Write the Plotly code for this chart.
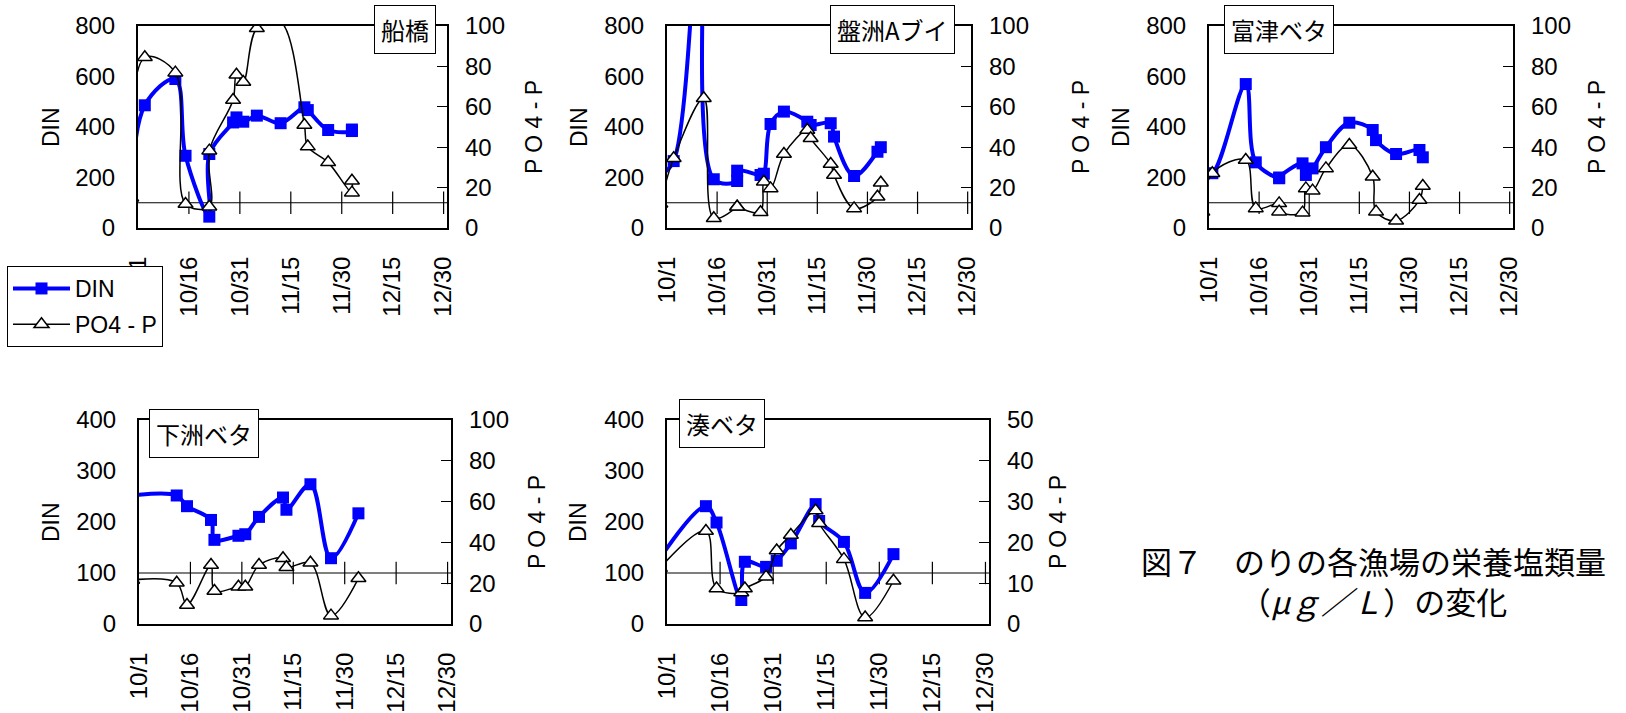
import plotly.graph_objects as go

YEAR = 2010
W, H = 1626, 713

# ---------------- data ----------------
tick_dates = ["10/01", "10/16", "10/31", "11/15", "11/30", "12/15", "12/30"]
tick_text = ["10/1", "10/16", "10/31", "11/15", "11/30", "12/15", "12/30"]
axis_start, axis_end = "10/01", "12/31"
ref_din = 100  # horizontal axis crosses the DIN axis here

funabashi_dates = ["09/29", "10/03", "10/12", "10/15", "10/22", "10/22", "10/29", "10/30",
                   "11/01", "11/05", "11/12", "11/19", "11/20", "11/26", "12/03", "12/03"]
funabashi_din = [100, 486, 590, 286, 45, 293, 418, 438, 421, 445, 415, 478, 467, 388, 384, 390]
funabashi_po4 = [15, 84.5, 76.9, 11.9, 10.5, 38.3, 63.4, 75.9, 72.3, 98.9, 102, 51.0, 40.3,
                 32.5, 17.5, 23.4]

banzu_dates = ["09/29", "10/03", "10/12", "10/15", "10/22", "10/22", "10/29", "10/30", "11/01",
               "11/05", "11/12", "11/13", "11/19", "11/20", "11/26", "12/03", "12/04"]
banzu_din = [210, 265, 1500, 193, 186, 227, 210, 215, 412, 461, 421, 408, 415, 362, 206, 302, 320]
banzu_po4 = [12, 34.5, 64.2, 4.8, 10.5, 10.5, 7.8, 22.9, 19.6, 36.6, 48.5, 44.4, 31.7, 26.2,
             9.7, 15.5, 22.4]

futtsu_dates = ["09/29", "10/02", "10/12", "10/15", "10/22", "10/22", "10/29", "10/30", "11/01",
                "11/05", "11/12", "11/19", "11/20", "11/26", "12/03", "12/04"]
futtsu_din = [225, 217, 570, 260, 197, 200, 256, 210, 236, 320, 417, 388, 348, 293, 309, 280]
futtsu_po4 = [8, 27.1, 33.7, 9.7, 12.2, 8.1, 7.6, 19.6, 18.5, 29.5, 41.1, 25.4, 8.1, 3.6, 13.9, 20.8]

shimosu_dates = ["09/29", "10/12", "10/15", "10/22", "10/23", "10/30", "11/01", "11/05", "11/12",
                 "11/13", "11/20", "11/26", "12/04"]
shimosu_din = [252, 252, 231, 204, 165, 173, 176, 210, 248, 224, 274, 129, 217]
shimosu_po4 = [21.6, 20.2, 9.3, 28.9, 16.2, 18.3, 18.3, 28.9, 32.2, 27.8, 30.0, 4.1, 22.4]

minato_dates = ["09/29", "10/12", "10/15", "10/22", "10/23", "10/29", "11/01", "11/05", "11/12",
                "11/13", "11/20", "11/26", "12/04"]
minato_din = [129, 231, 199, 47, 122, 112, 124, 158, 235, 202, 161, 61, 137]
minato_po4 = [13.7, 22.8, 8.7, 7.7, 8.7, 11.6, 18.0, 21.8, 27.8, 24.7, 15.9, 1.6, 10.6]

station_names = ["船橋", "盤洲Aブイ", "富津ベタ", "下洲ベタ", "湊ベタ"]
din_ranges = [800, 800, 800, 400, 400]
din_steps = [200, 200, 200, 100, 100]
po4_ranges = [100, 100, 100, 100, 50]
po4_steps = [20, 20, 20, 20, 10]

series = [
    (funabashi_dates, funabashi_din, funabashi_po4),
    (banzu_dates, banzu_din, banzu_po4),
    (futtsu_dates, futtsu_din, futtsu_po4),
    (shimosu_dates, shimosu_din, shimosu_po4),
    (minato_dates, minato_din, minato_po4),
]

caption_line1 = "図７　のりの各漁場の栄養塩類量"
caption_line2 = "（<i>μｇ／Ｌ</i>）の変化"

# ---------------- layout geometry (pixels) ----------------
boxes = [(138, 447, 26, 228), (667, 971, 26, 228), (1209, 1513, 26, 228),
         (139, 451, 420, 624), (667, 989, 420, 624)]
name_centres = [(405, 29), (892.5, 29), (1278.5, 29), (204.5, 433), (721.5, 423.5)]
din_title_x = [51, 579, 1121, 51, 578]
po4_title_x = [534, 1081, 1597, 537, 1058]

NUM_FONT = "Liberation Sans, Arial, sans-serif"
CJK_FONT = "Noto Sans CJK JP, sans-serif"


def d(s):
    m, dd = s.split("/")
    return f"{YEAR}-{int(m):02d}-{int(dd):02d}"


def px(x):
    return x / W


def py(y):
    return 1 - y / H


fig = go.Figure()
layout = dict(
    width=W, height=H, margin=dict(l=0, r=0, t=0, b=0, autoexpand=False),
    paper_bgcolor="white", plot_bgcolor="white",
    showlegend=True,
    legend=dict(x=px(7), y=py(266), xanchor="left", yanchor="top",
                bordercolor="black", borderwidth=1, bgcolor="white",
                font=dict(family=NUM_FONT, size=23, color="black"),
                tracegroupgap=3, itemwidth=57),
)
shapes = []
annotations = []

for k in range(5):
    i = k + 1
    xa = "xaxis" if i == 1 else f"xaxis{i}"
    xr = "x" if i == 1 else f"x{i}"
    yd_n, yp_n = 2 * i - 1, 2 * i
    yda = "yaxis" if yd_n == 1 else f"yaxis{yd_n}"
    ydr = "y" if yd_n == 1 else f"y{yd_n}"
    ypa = f"yaxis{yp_n}"
    ypr = f"y{yp_n}"
    l, r, t, b = boxes[k]

    layout[xa] = dict(
        domain=[px(l), px(r)], anchor=ydr, type="date", automargin=False,
        range=[d(axis_start), d(axis_end)],
        tickvals=[d(s) for s in tick_dates], ticktext=tick_text,
        tickangle=-90, ticks="", ticklabelstandoff=17,
        tickfont=dict(family=NUM_FONT, size=24, color="black"),
        showline=True, mirror=True, linecolor="black", linewidth=2,
        showgrid=False, zeroline=False,
    )
    layout[yda] = dict(
        domain=[py(b), py(t)], anchor=xr, range=[0, din_ranges[k]], automargin=False,
        tick0=0, dtick=din_steps[k], ticks="", ticklabelstandoff=16,
        tickfont=dict(family=NUM_FONT, size=24, color="black"),
        showline=True, mirror=True, linecolor="black", linewidth=2,
        showgrid=False, zeroline=False,
    )
    layout[ypa] = dict(
        overlaying=ydr, anchor=xr, side="right", range=[0, po4_ranges[k]],
        automargin=False,
        tick0=0, dtick=po4_steps[k], ticks="inside", ticklen=10, tickwidth=1,
        tickcolor="black", ticklabelstandoff=17,
        tickfont=dict(family=NUM_FONT, size=24, color="black"),
        showline=False, showgrid=False, zeroline=False,
    )

    dates, din, po4 = series[k]
    xs = [d(s) for s in dates]

    # horizontal axis line at DIN = 100 with crossing tick marks
    shapes.append(dict(type="line", xref=f"{xr} domain", yref=ydr, x0=0, x1=1,
                       y0=ref_din, y1=ref_din, line=dict(color="black", width=1.2),
                       layer="below"))
    fig.add_trace(go.Scatter(
        x=[d(s) for s in tick_dates[1:]], y=[ref_din] * (len(tick_dates) - 1),
        xaxis=xr, yaxis=ydr, mode="markers", showlegend=False, hoverinfo="skip",
        marker=dict(symbol="line-ns", size=16, line=dict(color="black", width=1.2)),
    ))

    fig.add_trace(go.Scatter(
        x=xs, y=din, xaxis=xr, yaxis=ydr, name="DIN", legendgroup="din",
        showlegend=(k == 0), mode="lines+markers",
        line=dict(color="#0000FF", width=4, shape="spline", smoothing=1),
        marker=dict(symbol="square", size=12, color="#0000FF"),
    ))
    fig.add_trace(go.Scatter(
        x=xs, y=po4, xaxis=xr, yaxis=ypr, name="PO4 - P", legendgroup="po4",
        showlegend=(k == 0), mode="lines+markers", connectgaps=True,
        line=dict(color="black", width=1.5, shape="spline", smoothing=1),
        marker=dict(symbol="triangle-up", size=13, color="white",
                    line=dict(color="black", width=1.5)),
    ))

    cx, cy = name_centres[k]
    annotations.append(dict(
        text=station_names[k], xref="paper", yref="paper", x=px(cx), y=py(cy),
        xanchor="center", yanchor="middle", showarrow=False,
        font=dict(family=CJK_FONT, size=24, color="black"),
        bgcolor="white", bordercolor="black", borderwidth=1, borderpad=6,
    ))
    annotations.append(dict(
        text="DIN", xref="paper", yref="paper", x=px(din_title_x[k]), y=py((t + b) / 2),
        xanchor="center", yanchor="middle", showarrow=False, textangle=-90,
        font=dict(family=NUM_FONT, size=23, color="black"),
    ))
    annotations.append(dict(
        text="P O 4 - P", xref="paper", yref="paper", x=px(po4_title_x[k]),
        y=py((t + b) / 2), xanchor="center", yanchor="middle", showarrow=False,
        textangle=-90, font=dict(family=NUM_FONT, size=23, color="black"),
    ))

annotations.append(dict(
    text=caption_line1 + "<br>" + caption_line2, xref="paper", yref="paper",
    x=px(1373), y=py(580), xanchor="center", yanchor="middle", align="center",
    showarrow=False, font=dict(family=CJK_FONT, size=31, color="black"),
))

layout["shapes"] = shapes
layout["annotations"] = annotations
fig.update_layout(**layout)
fig.write_html("out.html", config={"displayModeBar": False},
               post_script="document.body.style.margin='0px';document.body.style.overflow='hidden';")
